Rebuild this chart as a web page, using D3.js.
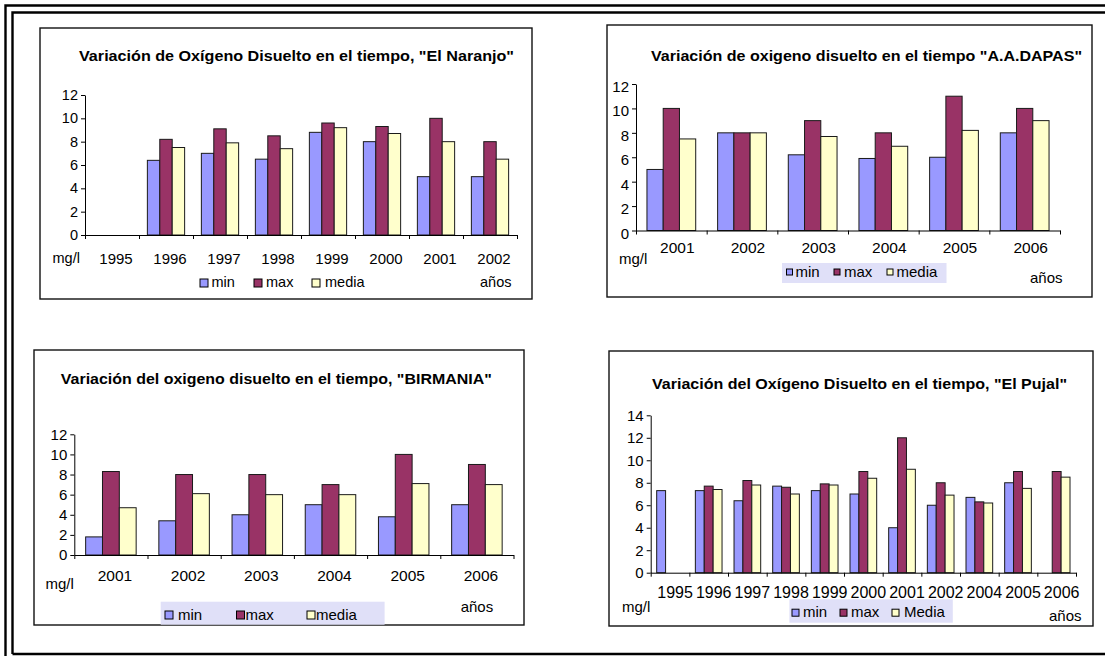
<!DOCTYPE html>
<html><head><meta charset="utf-8">
<script src="https://cdn.jsdelivr.net/npm/d3@7"></script>
<style>
html,body{margin:0;padding:0;background:#fff;}
svg{display:block;font-family:"Liberation Sans",Arial,sans-serif;}
</style></head>
<body>
<svg id="c" width="1105" height="656"></svg>
<script>
// ---------- DATA ----------
const seriesNames = ["min", "max", "media"];
const seriesColors = ["#9999ff", "#993366", "#ffffcc"];

const titleNaranjo = "Variación de Oxígeno  Disuelto en el tiempo, \"El Naranjo\"";
const yearsNaranjo = ["1995", "1996", "1997", "1998", "1999", "2000", "2001", "2002"];
const minNaranjo   = [null, 6.4, 7.0, 6.5, 8.8, 8.0, 5.0, 5.0];
const maxNaranjo   = [null, 8.2, 9.1, 8.5, 9.6, 9.3, 10.0, 8.0];
const mediaNaranjo = [null, 7.5, 7.9, 7.4, 9.2, 8.7, 8.0, 6.5];
const ticksNaranjo = [0, 2, 4, 6, 8, 10, 12];
const legendNaranjo = ["min", "max", "media"];

const titleDapas = "Variación de oxigeno disuelto en el tiempo \"A.A.DAPAS\"";
const yearsDapas = ["2001", "2002", "2003", "2004", "2005", "2006"];
const minDapas   = [5.0, 8.0, 6.2, 5.9, 6.0, 8.0];
const maxDapas   = [10.0, 8.0, 9.0, 8.0, 11.0, 10.0];
const mediaDapas = [7.5, 8.0, 7.7, 6.9, 8.2, 9.0];
const ticksDapas = [0, 2, 4, 6, 8, 10, 12];
const legendDapas = ["min", "max", "media"];

const titleBirmania = "Variación del oxigeno disuelto en el tiempo, \"BIRMANIA\"";
const yearsBirmania = ["2001", "2002", "2003", "2004", "2005", "2006"];
const minBirmania   = [1.8, 3.4, 4.0, 5.0, 3.8, 5.0];
const maxBirmania   = [8.3, 8.0, 8.0, 7.0, 10.0, 9.0];
const mediaBirmania = [4.7, 6.1, 6.0, 6.0, 7.1, 7.0];
const ticksBirmania = [0, 2, 4, 6, 8, 10, 12];
const legendBirmania = ["min", "max", "media"];

const titlePujal = "Variación del Oxígeno Disuelto en el tiempo, \"El Pujal\"";
const yearsPujal = ["1995", "1996", "1997", "1998", "1999", "2000", "2001", "2002", "2004", "2005", "2006"];
const minPujal   = [7.3, 7.3, 6.4, 7.7, 7.3, 7.0, 4.0, 6.0, 6.7, 8.0, null];
const maxPujal   = [null, 7.7, 8.2, 7.6, 7.9, 9.0, 12.0, 8.0, 6.3, 9.0, 9.0];
const mediaPujal = [null, 7.4, 7.8, 7.0, 7.8, 8.4, 9.2, 6.9, 6.2, 7.5, 8.5];
const ticksPujal = [0, 2, 4, 6, 8, 10, 12, 14];
const legendPujal = ["min", "max", "Media"];

const yUnit = "mg/l";
const xUnit = "años";

// ---------- LAYOUT ----------
const svg = d3.select("#c");

// outer double border
svg.append("path").attr("d", "M5.5,656 V5.5 H1105").attr("fill", "none").attr("stroke", "#000").attr("stroke-width", 2.4);
svg.append("path").attr("d", "M12.5,654 V12.5 H1105 M12.5,654 H1105").attr("fill", "none").attr("stroke", "#000").attr("stroke-width", 2.4);

function drawChart(o) {
  const g = svg.append("g");
  g.append("rect").attr("x", o.frame[0]).attr("y", o.frame[1])
    .attr("width", o.frame[2] - o.frame[0]).attr("height", o.frame[3] - o.frame[1])
    .attr("fill", "#fff").attr("stroke", "#111").attr("stroke-width", 1.4);

  g.append("text").attr("x", o.titlePos[0]).attr("y", o.titlePos[1])
    .attr("text-anchor", "middle").attr("dominant-baseline", "central")
    .attr("font-weight", "bold").attr("font-size", o.titleSize)
    .attr("textLength", o.titleLen).attr("lengthAdjust", "spacingAndGlyphs")
    .text(o.title);

  const x = d3.scaleBand().domain(o.years).range([o.x0, o.x1]).paddingInner(0.31).paddingOuter(0.155);
  const xs = d3.scaleBand().domain(seriesNames).range([0, x.bandwidth()]);
  const y = d3.scaleLinear().domain([0, d3.max(o.ticks)]).range([o.y0, o.yTop]);

  const data = [];
  o.series.forEach((vals, si) => vals.forEach((v, i) => {
    if (v != null) data.push({ year: o.years[i], s: seriesNames[si], c: seriesColors[si], v });
  }));
  g.selectAll("rect.bar").data(data).join("rect").attr("class", "bar")
    .attr("x", d => x(d.year) + xs(d.s))
    .attr("y", d => y(d.v))
    .attr("width", xs.bandwidth())
    .attr("height", d => y(0) - y(d.v))
    .attr("fill", d => d.c).attr("stroke", "#1a1a1a").attr("stroke-width", 1);

  // y axis
  const ya = g.append("g").attr("transform", `translate(${o.x0},0)`)
    .call(d3.axisLeft(y).tickValues(o.ticks).tickSize(4).tickSizeOuter(0).tickPadding(3));
  ya.select(".domain").attr("stroke", "#000");
  ya.selectAll("line").attr("stroke", "#000");
  ya.selectAll("text").attr("font-size", o.fs).attr("font-family", "Liberation Sans, Arial").attr("fill", "#000")
    .attr("dy", o.yLabelDy);

  // x axis with boundary ticks
  const xb = d3.scaleLinear().domain([0, o.years.length]).range([o.x0, o.x1]);
  const xa = g.append("g").attr("transform", `translate(0,${o.y0})`)
    .call(d3.axisBottom(xb).ticks(o.years.length).tickFormat("").tickSize(4).tickSizeOuter(0));
  xa.select(".domain").attr("stroke", "#000");
  xa.selectAll("line").attr("stroke", "#000");

  g.selectAll("text.xl").data(o.years).join("text").attr("class", "xl")
    .attr("x", d => x(d) + x.bandwidth() / 2 + o.labelShift)
    .attr("y", o.xLabelY).attr("text-anchor", "middle").attr("dominant-baseline", "central")
    .attr("font-size", o.xfs).text(d => d);

  g.append("text").attr("x", o.mgPos[0]).attr("y", o.mgPos[1]).attr("dominant-baseline", "central")
    .attr("font-size", o.fs).text(yUnit);
  g.append("text").attr("x", o.anosPos[0]).attr("y", o.anosPos[1]).attr("dominant-baseline", "central")
    .attr("font-size", o.fs).text(xUnit);

  // legend
  if (o.legendBg) {
    g.append("rect").attr("x", o.legendBg[0]).attr("y", o.legendBg[1])
      .attr("width", o.legendBg[2] - o.legendBg[0]).attr("height", o.legendBg[3] - o.legendBg[1])
      .attr("fill", "#e0e0f8");
  }
  o.legend.forEach((name, i) => {
    g.append("rect").attr("x", o.legSq[i]).attr("y", o.legY - o.sq / 2 + 1)
      .attr("width", o.sq).attr("height", o.sq)
      .attr("fill", seriesColors[i]).attr("stroke", "#000").attr("stroke-width", 1);
    g.append("text").attr("x", o.legTx[i]).attr("y", o.legY).attr("dominant-baseline", "central")
      .attr("font-size", o.fs).text(name);
  });
}

drawChart({
  frame: [40, 28, 532, 299], title: titleNaranjo, titlePos: [296.5, 55], titleSize: 15, titleLen: 435,
  years: yearsNaranjo, series: [minNaranjo, maxNaranjo, mediaNaranjo], ticks: ticksNaranjo,
  x0: 85, x1: 517, y0: 235, yTop: 95, fs: 14.5, xfs: 15, yLabelDy: "0.32em", labelShift: 4,
  xLabelY: 258, mgPos: [52.5, 258], anosPos: [480, 282],
  legend: legendNaranjo, legendBg: null, legSq: [200, 254, 312], legTx: [211.5, 266, 325], legY: 282, sq: 8
});
drawChart({
  frame: [607, 25, 1092, 297], title: titleDapas, titlePos: [866.5, 55], titleSize: 15, titleLen: 431,
  years: yearsDapas, series: [minDapas, maxDapas, mediaDapas], ticks: ticksDapas,
  x0: 636, x1: 1060, y0: 230.5, yTop: 84, fs: 15, xfs: 15.5, yLabelDy: "0.5em", labelShift: 6,
  xLabelY: 247, mgPos: [619, 258], anosPos: [1030, 277],
  legend: legendDapas, legendBg: [782, 263, 946.5, 283], legSq: [786.5, 834, 887], legTx: [795.5, 844, 896.5], legY: 271, sq: 6
});
drawChart({
  frame: [34, 350, 524, 625], title: titleBirmania, titlePos: [276.3, 378], titleSize: 15, titleLen: 431,
  years: yearsBirmania, series: [minBirmania, maxBirmania, mediaBirmania], ticks: ticksBirmania,
  x0: 74.3, x1: 513.5, y0: 555, yTop: 434.3, fs: 15, xfs: 15.5, yLabelDy: "0.32em", labelShift: 4,
  xLabelY: 575, mgPos: [45.5, 583], anosPos: [460.7, 606],
  legend: legendBirmania, legendBg: [160.7, 601.7, 384.6, 624.7], legSq: [165, 236.5, 307], legTx: [178, 245.4, 316], legY: 614, sq: 8
});
drawChart({
  frame: [609, 351, 1093, 626], title: titlePujal, titlePos: [859.5, 383], titleSize: 15, titleLen: 415,
  years: yearsPujal, series: [minPujal, maxPujal, mediaPujal], ticks: ticksPujal,
  x0: 650.7, x1: 1076, y0: 572.7, yTop: 415.3, fs: 15, xfs: 16, yLabelDy: "0.32em", labelShift: 5,
  xLabelY: 592, mgPos: [622, 606], anosPos: [1049, 615],
  legend: legendPujal, legendBg: [789.4, 599.3, 952.8, 622.7], legSq: [792, 840, 892], legTx: [803, 851, 904], legY: 611.7, sq: 7
});
</script>
</body></html>
